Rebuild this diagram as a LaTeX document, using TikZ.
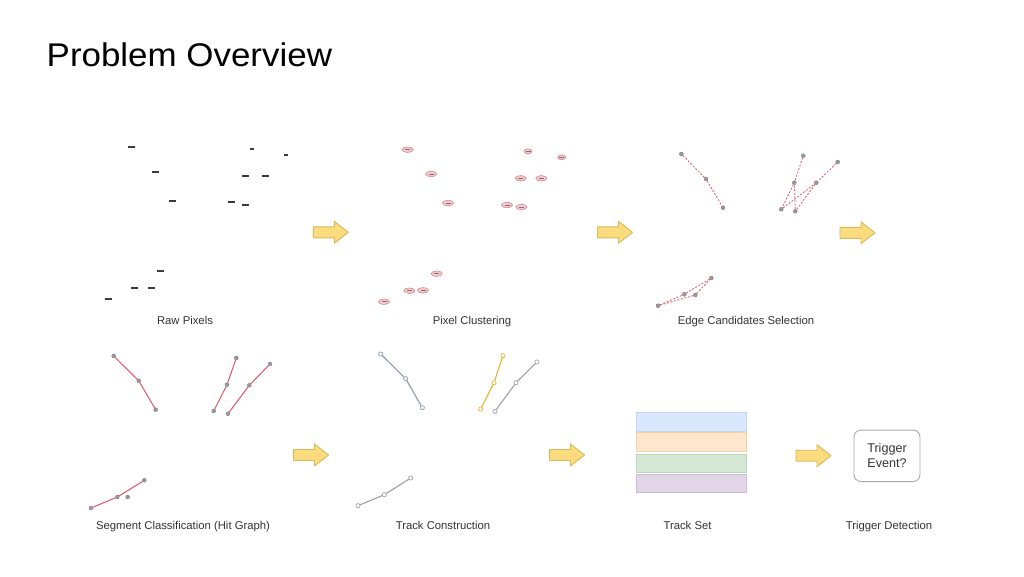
\documentclass[tikz,border=0pt]{standalone}
\usepackage{graphicx}
\usepackage{fontspec}
\setmainfont{Liberation Sans}
\usetikzlibrary{shapes.geometric}
\definecolor{pixc}{HTML}{3A3A3A}
\definecolor{clfill}{HTML}{F6CBD0}
\definecolor{cldraw}{HTML}{D8848E}
\definecolor{nodeg}{HTML}{9A9A9A}
\definecolor{redl}{HTML}{E0566A}
\definecolor{tblue}{HTML}{8C9BAE}
\definecolor{tyel}{HTML}{E2B72E}
\definecolor{tgray}{HTML}{A0A0A0}
\definecolor{arrfill}{HTML}{FADB7E}
\definecolor{arrdraw}{HTML}{D9B95A}
\definecolor{labc}{HTML}{333333}
\definecolor{tsbf}{HTML}{DAE8FC}\definecolor{tsbd}{HTML}{C4D6F0}
\definecolor{tsof}{HTML}{FFE6CC}\definecolor{tsod}{HTML}{F0D2AA}
\definecolor{tsgf}{HTML}{D5E8D4}\definecolor{tsgd}{HTML}{BED7BC}
\definecolor{tspf}{HTML}{E1D5E7}\definecolor{tspd}{HTML}{CDBED7}
\definecolor{trigd}{HTML}{AAAAAA}
\tikzset{
  pixel/.style={rectangle,fill=pixc,inner sep=0,minimum width=7,minimum height=1.8},
  spixel/.style={pixel,minimum width=4},
  clus/.style={ellipse,fill=clfill,draw=cldraw,line width=0.6,inner sep=0,minimum width=11,minimum height=5.5},
  sclus/.style={clus,minimum width=8,minimum height=5},
  gnode/.style={circle,fill=nodeg,draw=nodeg!80!black,line width=0.3,inner sep=0,minimum size=4},
  onode/.style={circle,fill=white,draw=#1,line width=0.7,inner sep=0,minimum size=4.2},
  cand/.style={redl,dashed,dash pattern=on 2 off 1.6,line width=0.8},
  seg/.style={redl,line width=1},
  trk/.style={line width=1.1,#1},
  bigarrow/.style={fill=arrfill,draw=arrdraw,line width=0.9,line join=round},
  lab/.style={text=labc,font=\fontsize{11.3}{13}\selectfont,anchor=base},
  tsrect/.style={line width=0.5}
}
\newcommand\yarrow[2]{\draw[bigarrow] (#1,#2) ++(0,-5.5) -- ++(21,0) -- ++(0,-5.5) -- ++(14,11) -- ++(-14,11) -- ++(0,-5.5) -- ++(-21,0) -- cycle;}
\begin{document}
\begin{tikzpicture}[x=1pt,y=-1pt]
\useasboundingbox (0,0) rectangle (1024,576);
\fill[white] (0,0) rectangle (1024,576);
% title
\node[anchor=base west,inner sep=0,font=\fontsize{32.8}{40}\selectfont] (title) at (46.5,66.7) {\scalebox{1.065}[1]{Problem Overview}};

% ---------- Raw pixels
\node[pixel] (r1) at (131.7,147.3) {};
\node[pixel] (r2) at (155.3,172) {};
\node[pixel] (r3) at (172.3,201) {};
\node[spixel] (r4) at (252,149.3) {};
\node[spixel] (r5) at (286.3,155) {};
\node[pixel] (r6) at (245,176) {};
\node[pixel] (r7) at (265.7,176) {};
\node[pixel] (r8) at (231.3,202.3) {};
\node[pixel] (r9) at (245.7,205) {};
\node[pixel] (r10) at (160.7,271.3) {};
\node[pixel] (r11) at (134,288.3) {};
\node[pixel] (r12) at (151,288.3) {};
\node[pixel] (r13) at (108,299.3) {};
\node[lab] (l1) at (185,324.3) {Raw Pixels};

% ---------- Pixel clustering
\foreach \n/\x/\y/\s in {c1/407.7/149.7/clus, c2/431/174/clus, c3/448/203/clus, c4/528/151.3/sclus,
  c5/561.7/157.3/sclus, c6/520.7/178.3/clus, c7/541.3/178.3/clus, c8/507/205/clus, c9/521.3/207/clus,
  c10/436.7/273.7/clus, c11/409.3/290.7/clus, c12/423/290.3/clus, c13/384/301.7/clus}{
  \node[\s] (\n) at (\x,\y) {};
  \fill[pixc!70] (\x-2.5,\y-0.4) rectangle (\x+2.5,\y+0.4);
}
\node[lab] (l2) at (472,324.3) {Pixel Clustering};

% ---------- Edge candidates
\node[gnode] (a1) at (681.3,154) {};
\node[gnode] (a2) at (706,179) {};
\node[gnode] (a3) at (723,207.7) {};
\node[gnode] (b1) at (803.3,155.7) {};
\node[gnode] (b2) at (794.3,182.7) {};
\node[gnode] (b3) at (781.3,209.3) {};
\node[gnode] (e1) at (837.7,162) {};
\node[gnode] (e2) at (816.3,182.7) {};
\node[gnode] (e3) at (795.3,211.3) {};
\node[gnode] (d1) at (711.3,278) {};
\node[gnode] (d2) at (695.3,295) {};
\node[gnode] (d3) at (684.3,294.3) {};
\node[gnode] (d4) at (658,305.7) {};
\draw[cand] (a1) -- (a2) -- (a3);
\draw[cand] (b1) -- (b2) -- (b3);
\draw[cand] (e1) -- (e2) -- (e3);
\draw[cand] (b3) -- (e2);
\draw[cand] (e3) -- (b2);
\draw[cand] (d4) -- (d3) -- (d1);
\draw[cand] (d4) -- (d2) -- (d1);
\node[lab] (l3) at (746,324.3) {Edge Candidates Selection};

% ---------- Segment classification
\node[gnode] (s1) at (113.7,356) {};
\node[gnode] (s2) at (138.7,380.7) {};
\node[gnode] (s3) at (155.7,409.7) {};
\node[gnode] (s4) at (236.3,358) {};
\node[gnode] (s5) at (227,384.7) {};
\node[gnode] (s6) at (213.7,411) {};
\node[gnode] (s7) at (270,364) {};
\node[gnode] (s8) at (249.3,385.3) {};
\node[gnode] (s9) at (228,413.7) {};
\node[gnode] (s10) at (144.3,480.3) {};
\node[gnode] (s11) at (117.3,497) {};
\node[gnode] (s12) at (127.7,497) {};
\node[gnode] (s13) at (91,508) {};
\draw[seg] (s1) -- (s2) -- (s3);
\draw[seg] (s4) -- (s5) -- (s6);
\draw[seg] (s7) -- (s8) -- (s9);
\draw[seg] (s10) -- (s11) -- (s13);
\node[lab] (l4) at (183,529.5) {Segment Classification (Hit Graph)};

% ---------- Track construction
\node[onode=tblue] (t1) at (380.7,354) {};
\node[onode=tblue] (t2) at (405.7,378.7) {};
\node[onode=tblue] (t3) at (422.3,407.7) {};
\node[onode=tyel] (t4) at (503,355.7) {};
\node[onode=tyel] (t5) at (494,382.7) {};
\node[onode=tyel] (t6) at (480.7,409) {};
\node[onode=tgray] (t7) at (537,362) {};
\node[onode=tgray] (t8) at (516,382.7) {};
\node[onode=tgray] (t9) at (495,411.3) {};
\node[onode=tgray] (t10) at (410.7,478) {};
\node[onode=tgray] (t11) at (384.3,494.7) {};
\node[onode=tgray] (t12) at (358,505.7) {};
\draw[trk=tblue] (t1) -- (t2) -- (t3);
\draw[trk=tyel] (t4) -- (t5) -- (t6);
\draw[trk=tgray] (t7) -- (t8) -- (t9);
\draw[trk=tgray] (t10) -- (t11) -- (t12);
\node[lab] (l5) at (443,529.5) {Track Construction};

% ---------- Track set
\path[tsrect,fill=tsbf,draw=tsbd] (636,412.3) rectangle (746,431) node[midway] (ts1) {};
\path[tsrect,fill=tsof,draw=tsod] (636,432.3) rectangle (746,451.7) node[midway] (ts2) {};
\path[tsrect,fill=tsgf,draw=tsgd] (636,454) rectangle (746,472.7) node[midway] (ts3) {};
\path[tsrect,fill=tspf,draw=tspd] (636,474) rectangle (746,492.3) node[midway] (ts4) {};
\node[lab] (l6) at (687.5,529.5) {Track Set};

% ---------- Trigger
\node[draw=trigd,line width=0.9,rounded corners=7,minimum width=66,minimum height=51.5,align=center,font=\fontsize{12.6}{15}\selectfont,text=labc] (trig) at (887,455.8) {Trigger\\Event?};
\node[lab] (l7) at (889,529.5) {Trigger Detection};

% ---------- Arrows
\yarrow{313.3}{232.3}
\yarrow{597.5}{232.3}
\yarrow{840}{232.8}
\yarrow{293.5}{455}
\yarrow{549.5}{455}
\yarrow{796}{455.7}
\end{tikzpicture}
\end{document}
